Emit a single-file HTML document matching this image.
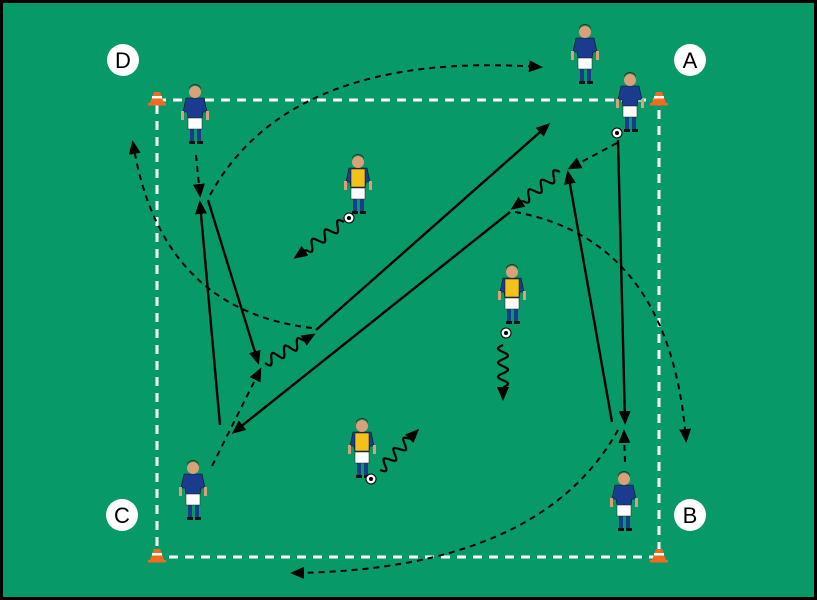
<!DOCTYPE html>
<html><head><meta charset="utf-8"><style>
html,body{margin:0;padding:0;background:#000}
svg{display:block}
</style></head><body>
<svg id="s" width="817" height="600" viewBox="0 0 817 600" xmlns="http://www.w3.org/2000/svg">
<defs>
<marker id="ah" markerWidth="14" markerHeight="12" refX="11" refY="6" orient="auto" markerUnits="userSpaceOnUse" viewBox="0 0 14 12">
<path d="M0,0 L14,6 L0,12 Z" fill="#000"/>
</marker>
<g id="pl">
<rect x="-5" y="22" width="4" height="14" fill="#1a3a8c"/><rect x="2" y="22" width="4" height="14" fill="#1a3a8c"/>
<rect x="-6" y="35" width="6" height="3" fill="#111"/><rect x="2" y="35" width="6" height="3" fill="#111"/>
<rect x="-7" y="10" width="14" height="13" fill="#fff" stroke="#222" stroke-width="0.5"/>
<path d="M-9,-8 L9,-8 L12,6 L8,6 L7,12 L-7,12 L-8,6 L-12,6 Z" fill="#1b3b8f" stroke="#111" stroke-width="0.6"/>
<rect x="-14" y="5" width="3" height="9" fill="#d9a17a"/><rect x="11" y="5" width="3" height="9" fill="#d9a17a"/>
<circle cx="0" cy="-14" r="6" fill="#d9a17a"/>
<path d="M-6,-15 A6,6 0 0 1 6,-15 L6,-17 A6,5 0 0 0 -6,-17Z" fill="#3a2a1a"/>
</g>
<g id="py">
<rect x="-5" y="22" width="4" height="14" fill="#1a3a8c"/><rect x="2" y="22" width="4" height="14" fill="#1a3a8c"/>
<rect x="-6" y="35" width="6" height="3" fill="#111"/><rect x="2" y="35" width="6" height="3" fill="#111"/>
<rect x="-7" y="10" width="14" height="13" fill="#fff" stroke="#222" stroke-width="0.5"/>
<path d="M-9,-8 L9,-8 L12,6 L8,6 L7,12 L-7,12 L-8,6 L-12,6 Z" fill="#1b3b8f" stroke="#111" stroke-width="0.6"/>
<path d="M-7,-7 L7,-7 L7,11 L-7,11 Z" fill="#f2c21a" stroke="#111" stroke-width="0.5"/>
<rect x="-14" y="5" width="3" height="9" fill="#d9a17a"/><rect x="11" y="5" width="3" height="9" fill="#d9a17a"/>
<circle cx="0" cy="-14" r="6" fill="#d9a17a"/>
<path d="M-6,-15 A6,6 0 0 1 6,-15 L6,-17 A6,5 0 0 0 -6,-17Z" fill="#3a2a1a"/>
</g>
<g id="ball"><circle r="5" fill="#fff" stroke="#000" stroke-width="1"/><circle r="2" fill="#000"/></g>
<g id="cone"><path d="M-3,-8 L3,-8 L7,3 L-7,3Z" fill="#f26a1f"/><rect x="-5" y="-4" width="10" height="2.5" fill="#fff"/><rect x="-9" y="3" width="18" height="2.5" fill="#f26a1f"/></g>
</defs>
<rect x="3" y="3" width="811" height="594" fill="#079a68"/>
<rect x="157" y="100" width="502" height="457" fill="none" stroke="#fff" stroke-width="3" stroke-dasharray="9,7"/>
<use href="#cone" x="157" y="100"/><use href="#cone" x="659" y="100"/>
<use href="#cone" x="157" y="557"/><use href="#cone" x="659" y="557"/>
<g font-family="Liberation Sans, sans-serif" font-size="22" text-anchor="middle">
<circle cx="123" cy="60" r="16" fill="#fff"/><text x="123" y="68">D</text>
<circle cx="690" cy="60" r="16" fill="#fff"/><text x="690" y="68">A</text>
<circle cx="122" cy="515" r="16" fill="#fff"/><text x="122" y="523">C</text>
<circle cx="690" cy="515" r="16" fill="#fff"/><text x="690" y="523">B</text>
</g>
<g stroke="#000" stroke-width="2.4" fill="none" marker-end="url(#ah)">
<path d="M316,330 L548,125"/>
<path d="M510,212 L234,432"/>
<path d="M220,425 L200,203"/>
<path d="M208,200 L258,362"/>
<path d="M618,140 L625,422"/>
<path d="M612,422 L568,173"/>
</g>
<g stroke="#000" stroke-width="2" fill="none" stroke-dasharray="6,5" marker-end="url(#ah)">
<path d="M210,195 Q290,50 540,67"/>
<path d="M312,328 Q160,310 133,143"/>
<path d="M196,155 L200,195"/>
<path d="M617,143 L570,168"/>
<path d="M212,466 L260,370"/>
<path d="M515,212 Q670,240 686,440"/>
<path d="M618,430 Q540,570 293,573"/>
<path d="M625,462 L624,432"/>
</g>
<g id="waves" stroke="#000" stroke-width="2.2" fill="none" marker-end="url(#ah)"></g>
<use href="#pl" x="585" y="46"/>
<use href="#pl" x="630" y="94"/><use href="#ball" x="617" y="133"/>
<use href="#pl" x="195" y="106"/>
<use href="#py" x="358" y="176"/><use href="#ball" x="349" y="218"/>
<use href="#py" x="512" y="286"/><use href="#ball" x="506" y="333"/>
<use href="#py" x="362" y="440"/><use href="#ball" x="371" y="479"/>
<use href="#pl" x="193" y="482"/>
<use href="#pl" x="624" y="493"/>
</svg>
<script>
var W=[[344,222,296,257],[265,363,313,335],[560,172,513,208],[503,345,503,398],[380,470,417,431]];
var g=document.getElementById('waves');
W.forEach(function(w){var dx=w[2]-w[0],dy=w[3]-w[1],L=Math.hypot(dx,dy),ux=dx/L,uy=dy/L,nx=-uy,ny=ux;
var d='M'+w[0]+','+w[1],n=48;for(var i=1;i<=n;i++){var t=i/n,a=t<0.8?Math.sin(t/0.8*Math.PI*2*3)*5:0;
d+=' L'+(w[0]+dx*t+nx*a).toFixed(1)+','+(w[1]+dy*t+ny*a).toFixed(1);}
var p=document.createElementNS('http://www.w3.org/2000/svg','path');p.setAttribute('d',d);g.appendChild(p);});
</script>
</body></html>
